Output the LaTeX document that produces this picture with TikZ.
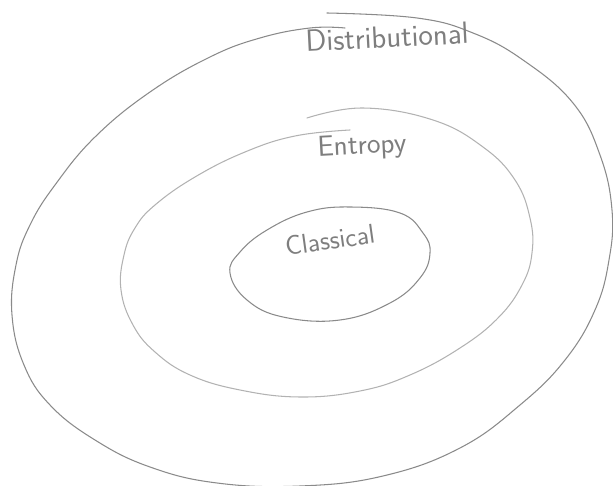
\documentclass[tikz,border=0pt]{standalone}
\usepackage{fontspec}
\usepackage{xcolor}
\usepackage{tikz}
\usetikzlibrary{positioning}

\definecolor{pencil}{HTML}{8A8A8A}
\definecolor{lightpencil}{HTML}{B2B2B2}
\definecolor{penciltext}{HTML}{7E7E7E}

\begin{document}
\begin{tikzpicture}[
    x=0.02cm, y=-0.02cm,
    ring/.style={draw=pencil, line width=0.6pt, line cap=round, line join=round},
    lightring/.style={ring, draw=lightpencil},
    handlabel/.style={text=penciltext, font=\sffamily, inner sep=0pt}
]
    \useasboundingbox (0,0) rectangle (613,486);

    \draw[ring] plot[smooth, tension=0.7] coordinates {
        (327,13) (417,18) (473,33) (523,60) (573,103) (600,155) (612,210)
        (609,260) (595,310) (565,360) (520,405) (460,448) (383,476) (300,486)
        (217,483) (150,467) (95,440) (50,405) (24,365) (12,315) (16,265)
        (30,225) (55,185) (95,137) (150,92) (210,57) (260,38) (310,28) (345,28)};
    \draw[lightring] plot[smooth, tension=0.7] coordinates {
        (307,118) (363,108) (433,120) (483,147) (515,180) (530,218) (532,253)
        (522,285) (498,318) (460,348) (410,375) (360,391) (300,397) (240,390)
        (190,375) (155,352) (133,325) (121,290) (124,255) (135,228) (155,205)
        (195,177) (245,152) (295,136) (350,130)};
    \draw[ring] plot[smooth cycle, tension=0.7] coordinates {
        (307,212) (350,207) (400,213) (423,233) (430,253) (420,278) (390,303)
        (340,320) (283,317) (247,300) (230,273) (240,252) (267,230)};

    \node[handlabel, font=\sffamily\fontsize{17.5}{20}\selectfont, rotate=3] (distributional) at (387,37) {Distributional};
    \node[handlabel, font=\sffamily\fontsize{16.5}{19}\selectfont, rotate=3] (entropy) at (362,147) {Entropy};
    \node[handlabel, font=\sffamily\fontsize{15.5}{18}\selectfont, rotate=8] (classical) at (330,240) {Classical};
\end{tikzpicture}
\end{document}
